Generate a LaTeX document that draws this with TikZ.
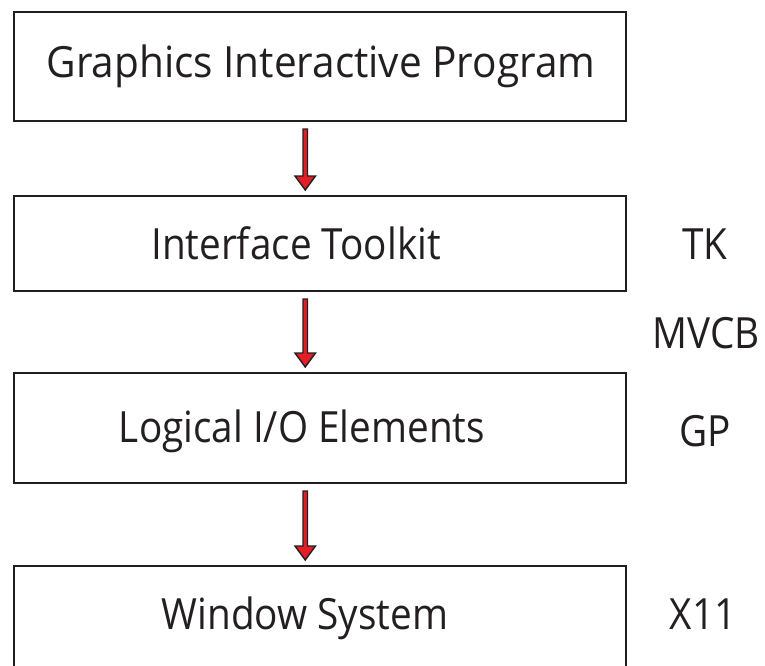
\documentclass[tikz,border=0pt]{standalone}
\usepackage{fontspec}
\setmainfont{Open Sans}[FakeStretch=0.9]
\newfontfamily\widecaption{Open Sans}[FakeStretch=0.943]
\usetikzlibrary{calc}
\definecolor{ink}{HTML}{231F20}
\definecolor{arrowred}{HTML}{E31E26}
\begin{document}
\begin{tikzpicture}[x=1pt,y=-1pt,
  layer/.style={draw=ink, line width=2pt, minimum width=612pt, inner sep=0pt},
  lbl/.style={text=ink, font=\fontsize{43}{50}\selectfont, inner sep=0pt, anchor=center},
  downarrow/.style={fill=arrowred, draw=ink, line width=1.4pt, line join=miter}]
\useasboundingbox (0,0) rectangle (765,665);
% layer boxes
\node[layer, minimum height=109pt] (gipbox) at (320,66.5) {};
\node[layer, minimum height=95pt] (itkbox) at (320,243.5) {};
\node[layer, minimum height=110pt] (liobox) at (320,428) {};
\begin{scope}
\clip (0,0) rectangle (765,665);
\node[layer, minimum height=134pt] (winbox) at (320,633) {};
\end{scope}
% box captions
\node[lbl, font=\widecaption\fontsize{43}{50}\selectfont] (gip) at (321,66) {Graphics Interactive Program};
\node[lbl] (itk) at (296,243) {Interface Toolkit};
\node[lbl] (lio) at (302,431) {Logical I/O Elements};
\node[lbl] (win) at (305,618) {Window System};
% side tags
\node[lbl] (tk) at (705,244) {TK};
\node[lbl] (mvcb) at (706,333) {MVCB};
\node[lbl] (gp) at (705,431) {GP};
\node[lbl] (x11) at (703,614) {X11};
% red arrows between the layers
\foreach \a/\b in {gipbox/itkbox, itkbox/liobox, liobox/winbox}{
  \path let \p1=($(\a.south)+(-14.75,7)$), \p2=($(\b.north)+(-14.75,-5)$) in
    [downarrow] (\x1-2.25pt,\y1) -- (\x1+2.25pt,\y1) -- (\x1+2.25pt,\y2+14pt)
      -- (\x1+10.25pt,\y2+14pt) -- (\x1,\y2) -- (\x1-10.25pt,\y2+14pt)
      -- (\x1-2.25pt,\y2+14pt) -- cycle;
}
\end{tikzpicture}
\end{document}
